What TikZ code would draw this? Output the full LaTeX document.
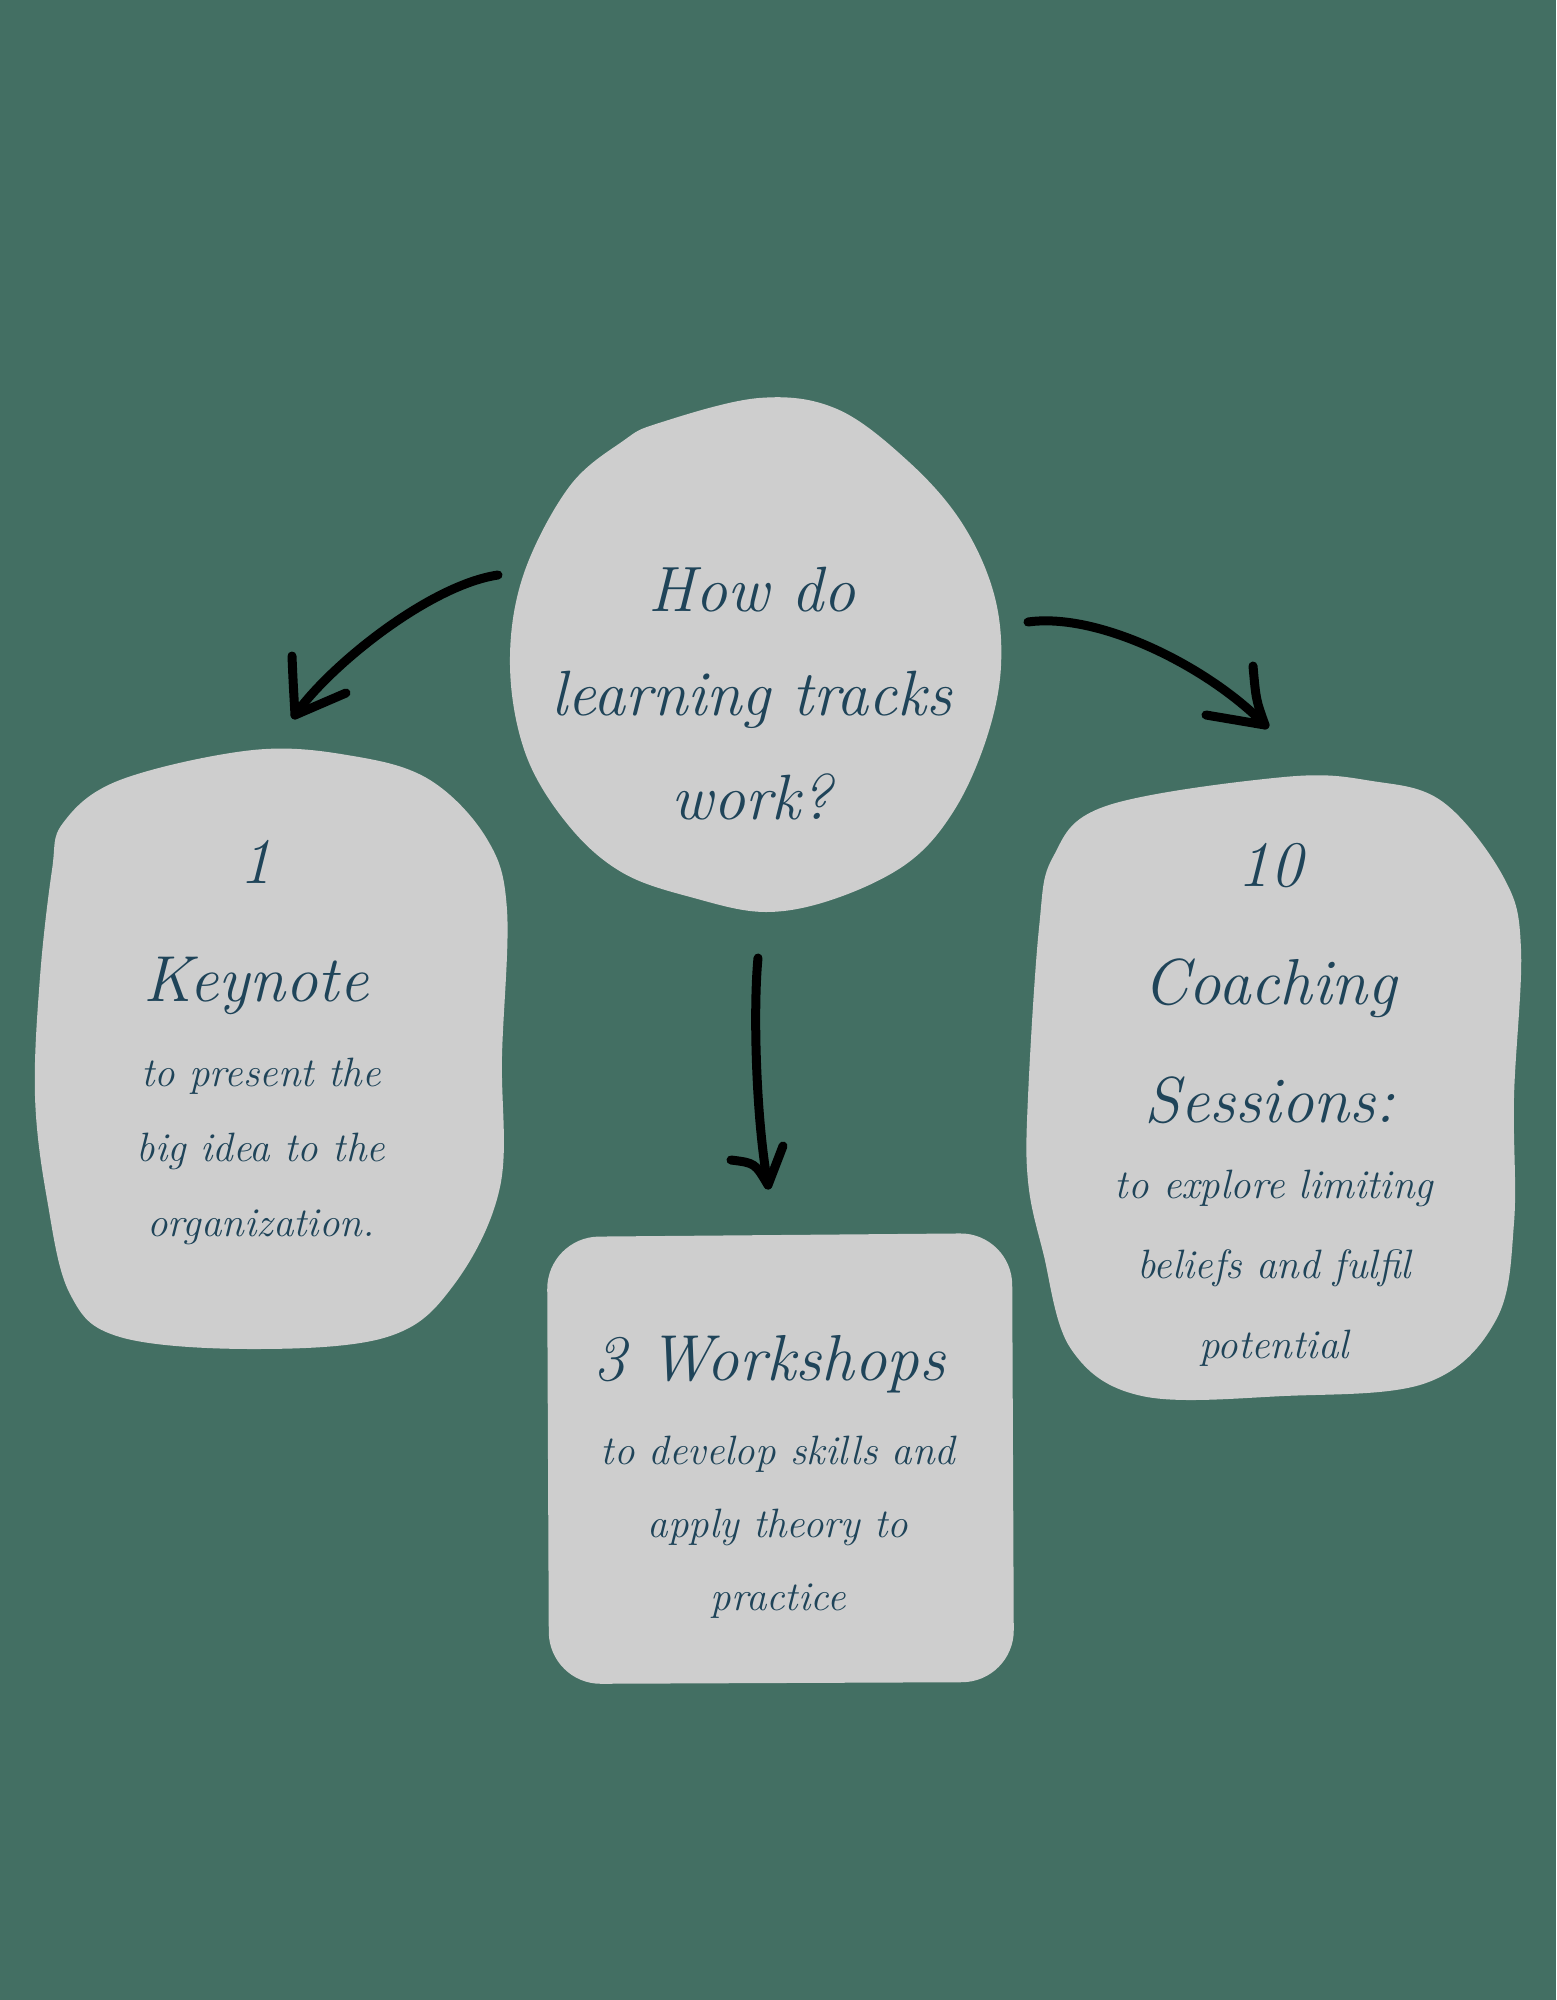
\documentclass[tikz,border=0pt]{standalone}
\usepackage{fontspec}
\usetikzlibrary{positioning}
\definecolor{bggreen}{HTML}{436F63}
\definecolor{blobgray}{HTML}{CECECE}
\definecolor{inknavy}{HTML}{1F4459}

\begin{document}
\begin{tikzpicture}[x=1pt,y=-1pt,
  blob/.style={fill=blobgray},
  question/.style={text=inknavy,font=\itshape\fontsize{64}{104}\selectfont,align=center,anchor=base,inner sep=0pt},
  title/.style={text=inknavy,font=\itshape\fontsize{65}{118}\selectfont,align=center,anchor=base,inner sep=0pt},
  desc/.style={text=inknavy,font=\itshape\fontsize{41}{75}\selectfont,align=center,anchor=base,inner sep=0pt},
  sketch/.style={draw=black,line width=9pt,line cap=round,line join=round}
]
  \fill[bggreen] (0,0) rectangle (1556,2000);

  % grey shapes
  \fill[blob] plot[smooth cycle,tension=0.6] coordinates {(659,423) (759,398) (837,409) (909,462) (962,523)
    (994,594) (1001,666) (987,737) (955,809) (909,862) (837,898) (766,912) (694,898) (623,873)
    (569,826) (526,755) (510,666) (523,576) (569,487) (623,441)};
  \fill[blob] plot[smooth cycle,tension=0.6] coordinates {(253,750) (353,756) (430,780) (487,839) (507,910)
    (502,1056) (500,1187) (453,1286) (387,1337) (253,1349) (120,1337) (70,1294) (47,1199)
    (35,1096) (40,977) (52,870) (63,823) (120,780)};
  \fill[blob] plot[smooth cycle,tension=0.6] coordinates {(1284,777) (1372,781) (1443,802) (1504,878) (1521,949)
    (1514,1097) (1514,1223) (1496,1320) (1426,1383) (1284,1396) (1142,1396) (1071,1349) (1043,1252)
    (1028,1181) (1028,1097) (1039,928) (1053,857) (1106,806)};
  \fill[blob,rounded corners=52pt] (547,1237) -- (1012,1233) -- (1014,1682) -- (549,1684) -- cycle;

  % texts (anchored at the baseline of the last line)
  \node[question] (q) at (752,819) {How do\\learning tracks\\work?};
  \node[title] (keynote) at (256,1001) {1\\Keynote};
  \node[desc] (keynotetxt) at (261,1236) {to present the\\big idea to the\\organization.};
  \node[title] (coaching) at (1270,1122) {10\\Coaching\\Sessions:};
  \node[desc,font=\itshape\fontsize{41}{80}\selectfont] (coachingtxt) at (1274,1358) {to explore limiting\\beliefs and fulfil\\potential};
  \node[title] (workshops) at (769,1380) {3 Workshops};
  \node[desc,font=\itshape\fontsize{41}{73}\selectfont] (workshopstxt) at (778,1610) {to develop skills and\\apply theory to\\practice};

  % arrow ends
  \coordinate (lstart) at (498,575);
  \coordinate (ltip) at (295,715);
  \coordinate (rstart) at (1028,622);
  \coordinate (rtip) at (1265,725);
  \coordinate (dstart) at (758,958);
  \coordinate (dtip) at (768,1185);

  % hand drawn arrows
  \draw[sketch] (lstart) .. controls (430,585) and (330,665) .. (ltip);
  \draw[sketch] (292,656) .. controls (293,680) .. (ltip) -- (346,693);
  \draw[sketch] (rstart) .. controls (1100,612) and (1210,668) .. (rtip);
  \draw[sketch] (1253,666) .. controls (1256,700) .. (rtip) -- (1206,715);
  \draw[sketch] (dstart) .. controls (753,1010) and (756,1120) .. (dtip);
  \draw[sketch] (731,1160) .. controls (755,1163) .. (dtip) -- (783,1146);
\end{tikzpicture}
\end{document}
